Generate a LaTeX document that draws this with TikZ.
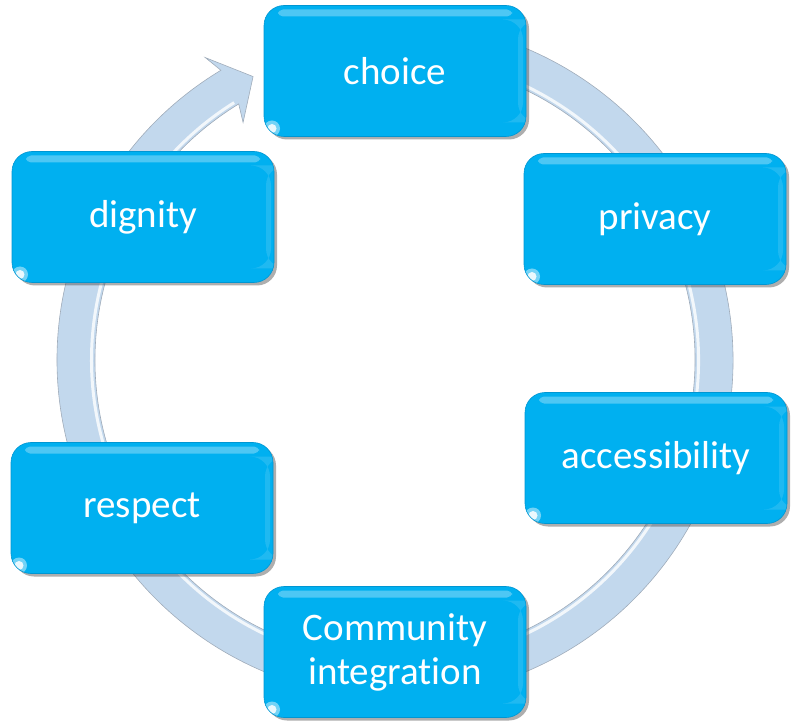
\documentclass[tikz,border=0pt]{standalone}
\usepackage{fontspec}
\setmainfont{Carlito}[Ligatures=NoCommon]
\usetikzlibrary{shadows}
\definecolor{boxblue}{RGB}{0,176,240}
\definecolor{boxedge}{RGB}{0,150,210}
\definecolor{ringblue}{RGB}{194,216,237}
\definecolor{ringedge}{RGB}{160,172,186}
\tikzset{
  stepbox/.style={
    fill=boxblue, draw=boxedge, line width=0.6pt,
    rounded corners=20pt,
    minimum width=262pt, minimum height=131pt,
    text=white, align=center, inner sep=0pt,
    font=\fontsize{39}{44}\selectfont,
    drop shadow={shadow xshift=3pt, shadow yshift=-3pt, opacity=0.45, fill=black!70},
    path picture={
      \fill[white,opacity=0.30,rounded corners=5pt]
        ([xshift=14pt,yshift=-4pt]path picture bounding box.north west)
        rectangle ([xshift=-14pt,yshift=-11pt]path picture bounding box.north east);
      \fill[white,opacity=0.12]
        ([xshift=-8pt,yshift=-14pt]path picture bounding box.north east)
        rectangle ([xshift=-3pt,yshift=14pt]path picture bounding box.south east);
      \fill[white,opacity=0.45]
        ([xshift=8pt,yshift=8pt]path picture bounding box.south west) circle (8pt);
      \fill[white,opacity=0.85]
        ([xshift=8pt,yshift=8pt]path picture bounding box.south west) circle (4.5pt);
    }
  },
  ring/.style={fill=ringblue, draw=ringedge, line width=0.6pt}
}
\begin{document}
\begin{tikzpicture}[x=1pt,y=1pt]
\useasboundingbox (0,0) rectangle (792,721);
\begin{scope}[shift={(395,361)}]
  \path[ring] (100:338) arc[start angle=100,end angle=-239,radius=338]
    -- (-237.9:357) -- (-243.4:317) -- (-237.4:282) -- (-238.6:300)
    arc[start angle=-238.6,end angle=100,radius=300] -- cycle;
  \draw[white,opacity=0.8,line width=3pt] (100:303.5) arc[start angle=100,end angle=-238,radius=303.5];
\end{scope}
\node[stepbox] (choice)    at (395,650) {choice};
\node[stepbox] (privacy)   at (655,502) {privacy};
\node[stepbox] (access)    at (656,263) {accessibility};
\node[stepbox] (community) at (395,69)  {Community\\integration};
\node[stepbox] (respect)   at (142,213) {respect};
\node[stepbox] (dignity)   at (143,504) {dignity};
\end{tikzpicture}
\end{document}
